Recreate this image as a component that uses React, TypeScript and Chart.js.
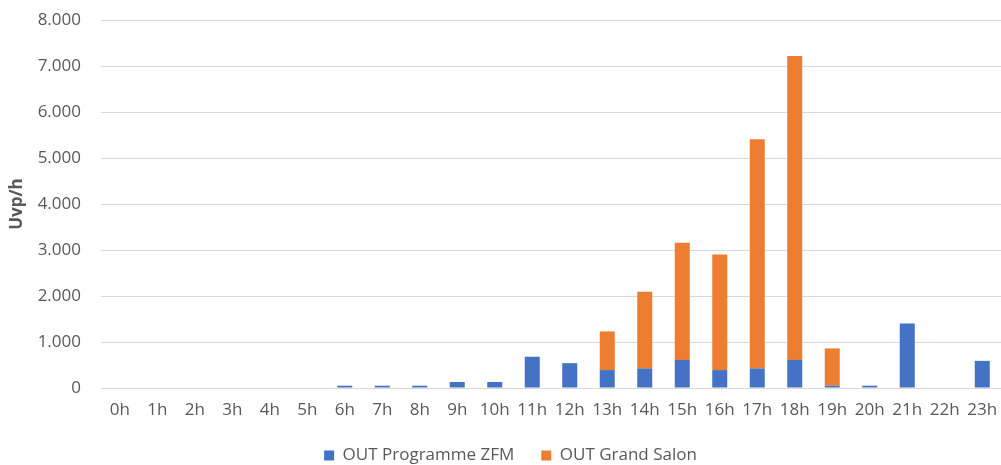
import React, { useEffect, useRef } from "react";
import { Chart, registerables } from "chart.js";

Chart.register(...registerables);

const hours = ["0h","1h","2h","3h","4h","5h","6h","7h","8h","9h","10h","11h","12h","13h","14h","15h","16h","17h","18h","19h","20h","21h","22h","23h"];
const programmeZFM = [0,0,0,0,0,0,50,50,50,130,130,680,540,390,425,610,390,425,610,50,50,1400,0,590];
const grandSalon = [0,0,0,0,0,0,0,0,0,0,0,0,0,840,1670,2550,2510,4980,6610,810,0,0,0,0];
const seriesNames = ["OUT Programme ZFM", "OUT Grand Salon"];
const yTitle = "Uvp/h";

const FONT = "'Open Sans', 'Noto Sans', sans-serif";
const GREY = "#595959";
const FS = 17;

export default function App() {
  const ref = useRef<HTMLCanvasElement | null>(null);
  useEffect(() => {
    if (!ref.current) return;
    const chart = new Chart(ref.current, {
      type: "bar",
      data: {
        labels: hours,
        datasets: [
          { label: seriesNames[0], data: programmeZFM, backgroundColor: "#4472C4", barPercentage: 0.4, categoryPercentage: 1 },
          { label: seriesNames[1], data: grandSalon, backgroundColor: "#ED7D31", barPercentage: 0.4, categoryPercentage: 1 },
        ],
      },
      options: {
        animation: false,
        responsive: false,
        maintainAspectRatio: false,
        layout: { padding: { top: 0, right: -2, left: 18, bottom: 0 } },
        plugins: {
          tooltip: { enabled: false },
          legend: {
            position: "bottom",
            maxHeight: 45,
            labels: {
              boxWidth: 10,
              boxHeight: 10,
              padding: 27,
              color: GREY,
              font: { family: FONT, size: FS },
            },
          },
        },
        scales: {
          x: {
            stacked: true,
            grid: { display: false, drawTicks: false },
            border: { display: false },
            ticks: { color: GREY, font: { family: FONT, size: FS }, padding: 12, maxRotation: 0, autoSkip: false },
            afterFit: (s: any) => { s.height = 32; s.paddingLeft = 0; s.paddingRight = 0; },
          },
          y: {
            stacked: true,
            min: 0,
            max: 8000,
            grid: { color: "#d9d9d9", lineWidth: 1, drawTicks: false },
            border: { display: false },
            ticks: {
              stepSize: 1000,
              color: GREY,
              padding: 20,
              font: { family: FONT, size: FS },
              callback: (v: any) => Number(v).toLocaleString("de-DE"),
            },
            title: { display: true, text: yTitle, color: GREY, font: { family: FONT, size: FS, weight: "bold" }, padding: { top: -11, bottom: 0 } },
            afterFit: (s: any) => { s.width = 83; s.paddingTop = 20; s.paddingBottom = 0; },
          },
        },
      },
    });
    return () => chart.destroy();
  }, []);
  return (
    <div style={{ position: "fixed", left: 0, top: 0, width: 1001, height: 465, background: "#fff", overflow: "hidden" }}>
      <canvas ref={ref} width={1001} height={465} style={{ width: 1001, height: 465 }} />
    </div>
  );
}
